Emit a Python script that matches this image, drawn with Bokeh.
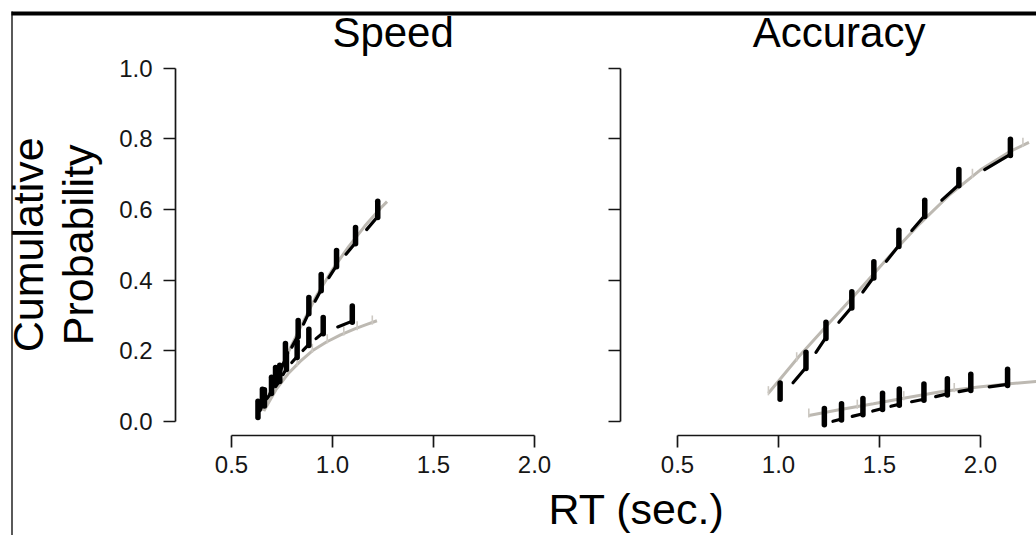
import numpy as np
from bokeh.plotting import figure
from bokeh.models import Range1d, LinearAxis, FixedTicker, PrintfTickFormatter, Label
from bokeh.embed import file_html
from bokeh.resources import INLINE

# ---------------- data ----------------
# Speed panel: observed quantile points (RT in s, defective cumulative probability)
speed_correct_rt = [0.663, 0.718, 0.767, 0.830, 0.883, 0.944, 1.020, 1.114, 1.224]
speed_correct_p = [0.067, 0.130, 0.198, 0.263, 0.328, 0.393, 0.461, 0.526, 0.600]
speed_error_rt = [0.631, 0.653, 0.698, 0.739, 0.772, 0.825, 0.883, 0.954, 1.098]
speed_error_p = [0.034, 0.068, 0.102, 0.136, 0.170, 0.204, 0.238, 0.271, 0.304]
# Speed panel: model curves
speed_model_correct_rt = [0.652, 0.72, 0.78, 0.84, 0.92, 1.00, 1.08, 1.16, 1.24, 1.27]
speed_model_correct_p = [0.031, 0.12, 0.195, 0.265, 0.355, 0.43, 0.495, 0.553, 0.605, 0.622]
speed_model_error_rt = [0.66, 0.72, 0.78, 0.84, 0.90, 0.97, 1.04, 1.11, 1.17, 1.22]
speed_model_error_p = [0.03, 0.09, 0.135, 0.17, 0.20, 0.225, 0.245, 0.262, 0.275, 0.285]
speed_model_q_rt = [0.825, 0.900, 0.974, 1.056, 1.122, 1.197]
speed_model_q_p = [0.162, 0.200, 0.227, 0.249, 0.264, 0.280]

# Accuracy panel: observed quantile points
acc_correct_rt = [1.008, 1.136, 1.235, 1.363, 1.472, 1.596, 1.724, 1.893, 2.148]
acc_correct_p = [0.086, 0.173, 0.258, 0.344, 0.429, 0.518, 0.603, 0.690, 0.776]
acc_error_rt = [1.227, 1.312, 1.418, 1.515, 1.598, 1.720, 1.836, 1.952, 2.134]
acc_error_p = [0.014, 0.027, 0.042, 0.057, 0.069, 0.083, 0.098, 0.111, 0.125]
# Accuracy panel: model curves
acc_model_correct_rt = [0.95, 1.10, 1.25, 1.40, 1.55, 1.70, 1.85, 2.00, 2.15, 2.24]
acc_model_correct_p = [0.08, 0.183, 0.278, 0.372, 0.468, 0.56, 0.643, 0.712, 0.765, 0.79]
acc_model_error_rt = [1.15, 1.30, 1.47, 1.64, 1.81, 1.98, 2.13, 2.29]
acc_model_error_p = [0.017, 0.033, 0.050, 0.068, 0.085, 0.097, 0.106, 0.114]
acc_model_q_rt = [0.95, 1.09, 1.96, 2.21, 1.15, 1.39, 1.62, 1.87]
acc_model_q_p = [0.08, 0.176, 0.695, 0.783, 0.017, 0.042, 0.066, 0.089]

panel_titles = ["Speed", "Accuracy"]
x_ticks = [0.5, 1.0, 1.5, 2.0]
y_ticks = [0.0, 0.2, 0.4, 0.6, 0.8, 1.0]
x_label = "RT (sec.)"
y_label_lines = ["Cumulative", "Probability"]

# ---------------- layout (pixels) ----------------
W, H = 1036, 535
XS = 202.0          # px per second
YS = 353.4          # px per unit probability
X05_L, X05_R = 231, 677   # pixel of RT = 0.5 in each panel
Y0 = 421            # pixel of p = 0


def xl(px):   # pixel -> left-panel data x
    return 0.5 + (px - X05_L) / XS


def xr(px):   # pixel -> right-panel data x
    return 0.5 + (px - X05_R) / XS


def yv(py):   # pixel -> data y
    return (Y0 - py) / YS


FONT = "Liberation Sans"
INK = "#161616"
GRAY = "#bdb9b2"
GRAY_TICK = "#cdc9c3"
BAR_HALF = 0.023
LINE_DROP = 0.02
DASH_FROM = 0.5

p = figure(width=W, height=H, output_backend="svg", toolbar_location=None,
           x_range=Range1d(xl(0), xl(W)), y_range=Range1d(yv(H), yv(0)),
           x_axis_type=None, y_axis_type=None, min_border=0,
           outline_line_color=None, background_fill_color="white",
           border_fill_color="white")
p.extra_x_ranges = {"right": Range1d(xr(0), xr(W))}


def style_axis(ax, labels=True, standoff=8):
    ax.axis_line_color = INK
    ax.axis_line_width = 1.7
    ax.major_tick_line_color = INK
    ax.major_tick_line_width = 1.7
    ax.major_tick_out = 12
    ax.major_tick_in = 0
    ax.minor_tick_line_color = None
    ax.major_label_text_font = FONT
    ax.major_label_text_font_size = "24px"
    ax.major_label_text_color = INK if labels else None
    ax.major_label_standoff = standoff
    ax.formatter = PrintfTickFormatter(format="%.1f")


for rng, xfun, show in [("default", xl, True), ("right", xr, False)]:
    yax = LinearAxis(ticker=FixedTicker(ticks=y_ticks), bounds=(0, 1),
                     fixed_location=xfun(175 if rng == "default" else 620),
                     x_range_name=rng)
    style_axis(yax, labels=show, standoff=11)
    p.add_layout(yax, "left")
    xax = LinearAxis(ticker=FixedTicker(ticks=x_ticks), bounds=(0.5, 2.0),
                     fixed_location=-0.04, x_range_name=rng)
    style_axis(xax)
    p.add_layout(xax, "below")


def draw_series(rt, pr, rng):
    rt = np.asarray(rt, float)
    pr = np.asarray(pr, float)
    v = pr - LINE_DROP
    x0 = rt[:-1] + DASH_FROM * (rt[1:] - rt[:-1])
    y0 = v[:-1] + DASH_FROM * (v[1:] - v[:-1])
    p.segment(x0=x0, y0=y0, x1=rt[1:], y1=v[1:], line_color="black",
              line_width=3.2, line_cap="round", x_range_name=rng)
    p.segment(x0=rt, y0=pr - BAR_HALF, x1=rt, y1=pr + BAR_HALF,
              line_color="black", line_width=5.5, line_cap="round",
              x_range_name=rng)


def draw_model(rt, pr, rng):
    p.line(rt, pr, line_color=GRAY, line_width=3, x_range_name=rng)


def draw_model_ticks(rt, pr, rng):
    rt = np.asarray(rt, float)
    pr = np.asarray(pr, float)
    p.segment(x0=rt, y0=pr - 0.006, x1=rt, y1=pr + 0.02, line_color=GRAY_TICK,
              line_width=1.6, x_range_name=rng)


# Speed panel
draw_model(speed_model_correct_rt, speed_model_correct_p, "default")
draw_model(speed_model_error_rt, speed_model_error_p, "default")
draw_model_ticks(speed_model_q_rt, speed_model_q_p, "default")
draw_series(speed_error_rt, speed_error_p, "default")
draw_series(speed_correct_rt, speed_correct_p, "default")

# Accuracy panel
draw_model(acc_model_correct_rt, acc_model_correct_p, "right")
draw_model(acc_model_error_rt, acc_model_error_p, "right")
draw_model_ticks(acc_model_q_rt, acc_model_q_p, "right")
draw_series(acc_correct_rt, acc_correct_p, "right")
draw_series(acc_error_rt, acc_error_p, "right")

# Panel titles
for title, rng in zip(panel_titles, ["default", "right"]):
    p.add_layout(Label(x=1.3, y=yv(32), text=title, x_range_name=rng,
                       text_font=FONT, text_font_size="42px", text_color="black",
                       text_align="center", text_baseline="alphabetic"))

# Axis titles
p.add_layout(Label(x=xl(636), y=yv(508), text=x_label, text_font=FONT,
                   text_font_size="43px", text_color="black",
                   text_align="center", text_baseline="alphabetic"))
for line, px in zip(y_label_lines, [27, 77]):
    p.add_layout(Label(x=xl(px), y=0.5, text=line, angle=np.pi / 2,
                       text_font=FONT, text_font_size="43px", text_color="black",
                       text_align="center", text_baseline="alphabetic"))

# Enclosing frame edges (cropped box of the original figure)
p.line([xl(11), xl(W + 5)], [yv(13), yv(13)], line_color="black", line_width=4)
p.line([xl(11.5), xl(11.5)], [yv(11), yv(H + 5)], line_color="black", line_width=1.3)

open("out.html", "w").write(file_html(p, INLINE))
